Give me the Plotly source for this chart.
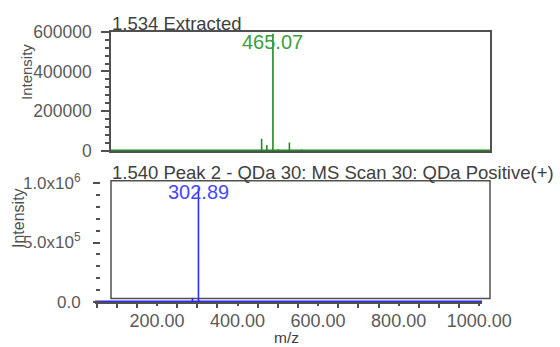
import plotly.graph_objects as go

W, H = 560, 347

# ---- data ----
top_title = "1.534 Extracted"
top_mz = [123.0, 437.0, 450.0, 465.07, 478.0, 506.0, 536.0]
top_int = [4000, 62000, 30000, 590000, 9000, 43000, 7000]
top_peak_label = "465.07"
top_xrange = [63, 1004]
top_yticks = [0, 200000, 400000, 600000]
top_yticktext = ["0", "200000", "400000", "600000"]

bot_title = "1.540 Peak 2 - QDa 30: MS Scan 30: QDa Positive(+)"
bot_mz = [110.0, 135.0, 160.0, 288.0, 302.89, 304.0, 330.0]
bot_int = [6000, 5000, 4000, 35000, 960000, 15000, 4000]
bot_peak_label = "302.89"
bot_xrange = [46, 1007]
bot_yticks = [0, 500000, 1000000]
bot_yticktext = ["0.0", "5.0x10<sup>5</sup>", "1.0x10<sup>6</sup>"]


def px(p):
    return p / W


def py(p):
    return 1 - p / H


def sticks(mz, inten):
    xs, ys = [], []
    for m, i in zip(mz, inten):
        xs += [m, m, None]
        ys += [0, i, None]
    return xs, ys


FONT = "Liberation Sans"
TICKC = "#5a5a5a"
LINEC = "#505050"
GREEN = "#1e8c1e"
BLUE = "#2b2bff"

fig = go.Figure()

tx, ty = sticks(top_mz, top_int)
fig.add_trace(go.Scatter(x=tx, y=ty, mode="lines", line=dict(color=GREEN, width=1.6),
                         xaxis="x", yaxis="y", hoverinfo="skip", showlegend=False))
fig.add_trace(go.Scatter(x=top_xrange, y=[0, 0], mode="lines", line=dict(color=GREEN, width=3),
                         xaxis="x", yaxis="y", hoverinfo="skip", showlegend=False))

bx, by = sticks(bot_mz, bot_int)
fig.add_trace(go.Scatter(x=bx, y=by, mode="lines", line=dict(color=BLUE, width=1.6),
                         xaxis="x2", yaxis="y2", hoverinfo="skip", showlegend=False))
fig.add_trace(go.Scatter(x=bot_xrange, y=[0, 0], mode="lines", line=dict(color=BLUE, width=3),
                         xaxis="x2", yaxis="y2", hoverinfo="skip", showlegend=False))

bot_ytop = 1000000 * (302 - 180.7) / (302 - 183)

fig.update_layout(
    width=W, height=H, autosize=False,
    margin=dict(l=0, r=0, t=0, b=0, pad=0),
    paper_bgcolor="white", plot_bgcolor="rgba(0,0,0,0)",
    font=dict(family=FONT, color=TICKC),
    xaxis=dict(domain=[px(111), px(490)], range=top_xrange, anchor="y", automargin=False,
               showline=True, mirror=True, linecolor=LINEC, linewidth=1.5,
               ticks="", showticklabels=False, showgrid=False, zeroline=False),
    yaxis=dict(domain=[py(151), py(31.7)], range=[0, 600000], anchor="x", automargin=False,
               showline=True, mirror=True, linecolor=LINEC, linewidth=1.5,
               ticks="outside", ticklen=8, tickwidth=1.5, tickcolor=LINEC,
               ticklabelstandoff=6,
               tickmode="array", tickvals=top_yticks, ticktext=top_yticktext,
               tickfont=dict(size=17.5, color=TICKC),
               minor=dict(dtick=40000, tick0=0, ticks="outside", ticklen=4, tickcolor=LINEC, tickwidth=1.5),
               showgrid=False, zeroline=False),
    xaxis2=dict(domain=[px(95), px(482)], range=bot_xrange, anchor="y2", automargin=False,
                showline=True, linecolor=LINEC, linewidth=1.5,
                ticks="outside", ticklen=2, tickwidth=1.5, tickcolor=LINEC,
                tick0=0, dtick=200, tickformat=".2f",
                tickfont=dict(size=18, color=TICKC),
                minor=dict(dtick=50, tick0=0, ticks="outside", ticklen=4, tickcolor=LINEC, tickwidth=1.5),
                showgrid=False, zeroline=False),
    yaxis2=dict(domain=[py(302), py(180.7)], range=[0, bot_ytop], anchor="free", position=px(100),
                automargin=False,
                showline=False, ticks="outside", ticklen=7, tickwidth=1.5, tickcolor=LINEC,
                ticklabelstandoff=9,
                tickmode="array", tickvals=bot_yticks, ticktext=bot_yticktext,
                tickfont=dict(size=17, color=TICKC),
                minor=dict(dtick=100000, tick0=0, ticks="outside", ticklen=4, tickcolor=LINEC, tickwidth=1.5),
                showgrid=False, zeroline=False),
    shapes=[dict(type="rect", xref="paper", yref="paper",
                 x0=px(111), x1=px(490), y0=py(298.5), y1=py(180.7),
                 line=dict(color=LINEC, width=1.5), layer="below")],
    annotations=[
        dict(text=top_title, xref="paper", yref="paper", x=px(110), y=py(23),
             xanchor="left", yanchor="middle", showarrow=False,
             font=dict(size=18.5, color="#404040")),
        dict(text=bot_title, xref="paper", yref="paper", x=px(110), y=py(172),
             xanchor="left", yanchor="middle", showarrow=False,
             font=dict(size=18.5, color="#404040")),
        dict(text=top_peak_label, xref="x", yref="paper", x=465.07, y=py(42),
             xanchor="center", yanchor="middle", showarrow=False,
             font=dict(size=20, color="#3aa03a")),
        dict(text=bot_peak_label, xref="x2", yref="paper", x=302.89, y=py(192),
             xanchor="center", yanchor="middle", showarrow=False,
             font=dict(size=20, color="#4848ff")),
        dict(text="Intensity", xref="paper", yref="paper", x=px(27), y=py(72),
             xanchor="center", yanchor="middle", textangle=-90, showarrow=False,
             font=dict(size=15, color="#505050")),
        dict(text="Intensity", xref="paper", yref="paper", x=px(18), y=py(218),
             xanchor="center", yanchor="middle", textangle=-90, showarrow=False,
             font=dict(size=16, color="#505050")),
        dict(text="m/z", xref="paper", yref="paper", x=px(286), y=py(337.5),
             xanchor="center", yanchor="middle", showarrow=False,
             font=dict(size=15.5, color="#404040")),
    ],
)

fig.write_html("out.html", config={"displayModeBar": False},
               post_script="document.body.style.margin='0';")
